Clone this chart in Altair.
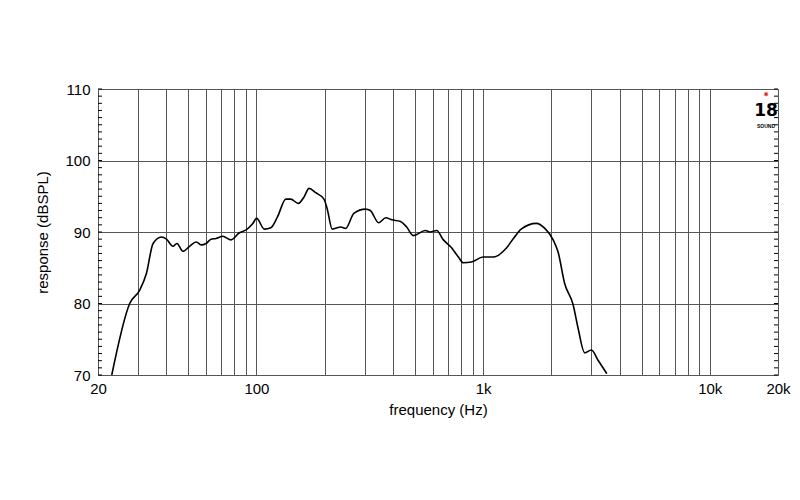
import altair as alt
import pandas as pd

freq = [23.0, 27.6, 30.6, 32.7, 35.0, 38.1, 40.1, 42.8, 44.6, 47.4, 50.7, 54.3, 57.0, 60.0,
        63.1, 66.3, 71.0, 77.3, 84.1, 90.0, 96.4, 100.2, 108.4, 115.8, 123.8, 134.8, 141.6,
        153.1, 162.2, 170.7, 182.6, 198.6, 205.0, 216.0, 235.5, 247.6, 269.0, 302.8, 318.0,
        346.0, 372.0, 396.0, 430.0, 460.0, 492.0, 556.0, 584.0, 624.0, 668.0, 726.0, 778.0,
        818.0, 888.0, 1000.0, 1112.0, 1262.0, 1376.0, 1472.0, 1716.0, 1872.0, 2038.0, 2142.0,
        2290.0, 2497.0, 2626.0, 2808.0, 3004.0, 3210.0, 3514.0]
spl = [70.0, 80.0, 81.9, 84.2, 88.4, 89.3, 89.0, 88.0, 88.4, 87.3, 88.0, 88.6, 88.2, 88.4,
       89.0, 89.1, 89.4, 88.9, 89.9, 90.3, 91.2, 91.9, 90.4, 90.6, 92.1, 94.6, 94.6,
       94.0, 94.9, 96.1, 95.5, 94.6, 93.3, 90.4, 90.7, 90.5, 92.6, 93.2, 93.0,
       91.3, 92.0, 91.7, 91.5, 90.7, 89.5, 90.2, 90.0, 90.2, 88.9, 87.8, 86.5,
       85.7, 85.8, 86.5, 86.5, 87.7, 89.3, 90.4, 91.2, 90.5, 88.9, 87.2,
       82.8, 79.8, 76.5, 73.1, 73.5, 72.1, 70.2]

grid_freqs = [20, 30, 40, 50, 60, 70, 80, 90,
              100, 200, 300, 400, 500, 600, 700, 800, 900,
              1000, 2000, 3000, 4000, 5000, 6000, 7000, 8000, 9000,
              10000, 20000]
label_freqs = {20: "20", 100: "100", 1000: "1k", 10000: "10k", 20000: "20k"}
y_ticks = [70, 80, 90, 100, 110]
minor_db = list(range(70, 111))

W, H = 680, 286
FONT = "Liberation Sans"

df = pd.DataFrame({"f": freq, "db": spl})
minor = pd.DataFrame({"db": minor_db})

label_expr = " : ".join(
    [f"datum.value == {k} ? '{v}'" for k, v in label_freqs.items()]) + " : ''"

xscale = alt.Scale(type="log", domain=[20, 20000], nice=False)
yscale = alt.Scale(domain=[70, 110], nice=False, zero=False)

line = alt.Chart(df).mark_line(color="black", strokeWidth=1.6, interpolate="monotone").encode(
    x=alt.X("f:Q", scale=xscale,
            axis=alt.Axis(values=grid_freqs, labelExpr=label_expr, ticks=False, domain=False,
                          grid=True, gridColor="#555555", gridWidth=1, gridOpacity=1,
                          title="frequency (Hz)", labelFontSize=15, titleFontSize=15,
                          labelFont=FONT, titleFont=FONT, titleFontWeight="normal",
                          labelColor="black", titleColor="black", labelPadding=6,
                          titlePadding=6, labelFlush=False, labelOverlap=False)),
    y=alt.Y("db:Q", scale=yscale,
            axis=alt.Axis(values=y_ticks, ticks=False, domain=False, grid=True,
                          gridColor="#555555", gridWidth=1, gridOpacity=1,
                          title="response (dBSPL)", labelFontSize=15, titleFontSize=15,
                          labelFont=FONT, titleFont=FONT, titleFontWeight="normal",
                          labelColor="black", titleColor="black", labelPadding=8,
                          titlePadding=14, labelFlush=False)),
)

tick_left = alt.Chart(minor).mark_rule(color="black", strokeWidth=1).encode(
    x=alt.value(0), x2=alt.value(4), y=alt.Y("db:Q", scale=yscale))
tick_right = alt.Chart(minor).mark_rule(color="black", strokeWidth=1).encode(
    x=alt.value(W - 4), x2=alt.value(W), y=alt.Y("db:Q", scale=yscale))

logo_star = alt.Chart(pd.DataFrame({"t": ["✷"]})).mark_text(
    color="#d62020", fontSize=8, font="DejaVu Sans").encode(
    x=alt.value(W - 12), y=alt.value(6), text="t:N")
logo_18 = alt.Chart(pd.DataFrame({"t": ["18"]})).mark_text(
    color="black", fontSize=17, fontWeight="bold", font="DejaVu Sans").encode(
    x=alt.value(W - 12), y=alt.value(22), text="t:N")
logo_sound = alt.Chart(pd.DataFrame({"t": ["SOUND"]})).mark_text(
    color="black", fontSize=5, fontWeight="bold", font=FONT).encode(
    x=alt.value(W - 12), y=alt.value(37), text="t:N")

chart = alt.layer(line, tick_left, tick_right, logo_star, logo_18, logo_sound).properties(
    width=W, height=H,
    autosize=alt.AutoSizeParams(type="none"),
    padding={"left": 90, "top": 81, "right": 14, "bottom": 60},
).configure_view(stroke="black", strokeWidth=1.5).configure(background="white")

chart.save("out.html", embed_options={"renderer": "svg", "actions": False})
